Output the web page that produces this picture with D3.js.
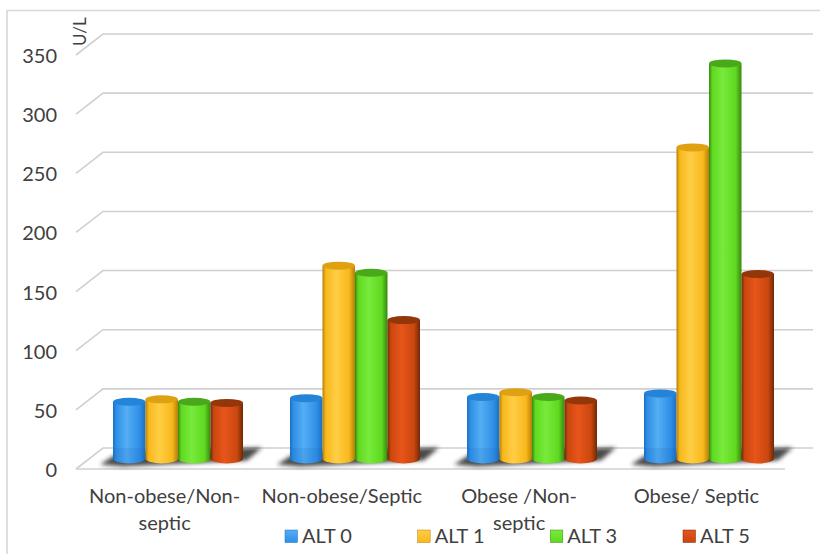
<!DOCTYPE html>
<html>
<head>
<meta charset="utf-8">
<script src="https://cdn.jsdelivr.net/npm/d3@7/dist/d3.min.js"></script>
<style>
  html, body { margin: 0; padding: 0; background: #fff; }
  svg { display: block; }
  text { font-family: Lato, "Open Sans", sans-serif; fill: #404040; }
</style>
</head>
<body>
<div id="chart"></div>
<script>
const categories = ["Non-obese/Non-septic", "Non-obese/Septic", "Obese /Non-septic", "Obese/ Septic"];
const categoryLines = [["Non-obese/Non-", "septic"], ["Non-obese/Septic"], ["Obese /Non-", "septic"], ["Obese/ Septic"]];
const seriesNames = ["ALT 0", "ALT 1", "ALT 3", "ALT 5"];
const alt0 = [48, 51, 52, 55];
const alt1 = [50, 163, 56, 263];
const alt3 = [48, 157, 52, 334];
const alt5 = [47, 117, 49, 156];
const seriesValues = [alt0, alt1, alt3, alt5];
const yTicks = [0, 50, 100, 150, 200, 250, 300, 350];
const seriesColors = [
  { edge: "#1c6fbf", mid: "#55aef5", base: "#2f8fe6", top: "#2384d8" },
  { edge: "#b57f08", mid: "#ffce45", base: "#f8b81c", top: "#dfa112" },
  { edge: "#37870f", mid: "#78ea3c", base: "#5fd91f", top: "#4aa91a" },
  { edge: "#6e2a05", mid: "#e8551a", base: "#c9470f", top: "#93360a" }
];

const width = 820, height = 554;
const depthX = 27, depthY = 21;      // offset from front floor edge to back wall
const floorInset = 10.5;             // bars stand this far behind the front edge

const svg = d3.select("#chart").append("svg").attr("width", width).attr("height", height);
const defs = svg.append("defs");

const y = d3.scaleLinear().domain([0, 350]).range([469, 55]);
const xFront = d3.scaleBand().domain(categories).range([76, 785]);
const xGroup = d3.scaleBand().domain(categories).range([90, 798]);
const xBar = d3.scaleBand().domain(d3.range(4)).range([23, 153]);

// Horizontal shading gives each column its cylindrical look
seriesColors.forEach((c, i) => {
  const g = defs.append("linearGradient").attr("id", "cyl" + i);
  [[0, c.edge], [0.1, c.base], [0.42, c.mid], [0.82, c.base], [1, c.edge]].forEach(([o, col]) =>
    g.append("stop").attr("offset", o).attr("stop-color", col));
  const s = defs.append("linearGradient").attr("id", "swatch" + i).attr("x1", 0).attr("x2", 0).attr("y1", 0).attr("y2", 1);
  [[0, c.mid], [1, c.base]].forEach(([o, col]) =>
    s.append("stop").attr("offset", o).attr("stop-color", col));
});
defs.append("filter").attr("id", "soft").attr("x", "-20%").attr("y", "-100%").attr("width", "140%").attr("height", "300%")
  .append("feGaussianBlur").attr("stdDeviation", 2.2);

// Chart frame: top and left edges only
svg.append("path")
  .attr("d", `M7,554V10.5H820`)
  .attr("fill", "none").attr("stroke", "#d8d8d8").attr("stroke-width", 1.6);

// Gridlines wrap from the side wall on to the back wall
const gridColor = "#d0d0d0";
svg.append("g").selectAll("path").data(yTicks).join("path")
  .attr("d", d => `M${76},${y(d)}L${76 + depthX},${y(d) - depthY}L${813},${y(d) - depthY}`)
  .attr("fill", "none").attr("stroke", gridColor).attr("stroke-width", 1.6);
svg.append("line")
  .attr("x1", 76).attr("x2", 785).attr("y1", y(0)).attr("y2", y(0))
  .attr("stroke", gridColor).attr("stroke-width", 1.6);

// Soft shadow each group casts on the floor
svg.append("g").selectAll("path").data(categories).join("path")
  .attr("d", c => {
    const x0 = xGroup(c) + xBar(0), x1 = xGroup(c) + xBar(3) + xBar.bandwidth();
    const yb = y(0) - floorInset;
    return `M${x0 - 13},${yb + 6}L${x0 + 6},${yb - 6}L${x1 + 19},${yb - 11}L${x1 + 4},${yb + 2}L${x0 + 10},${yb + 8}Z`;
  })
  .attr("fill", "#2b2b2b").attr("opacity", 0.85).attr("filter", "url(#soft)");

// Columns
const rx = xBar.bandwidth() / 2;
const ryTop = 4, ryBase = 5;
const groups = svg.append("g").selectAll("g").data(categories).join("g")
  .attr("transform", c => `translate(${xGroup(c)},0)`);
seriesValues.forEach((vals, s) => {
  const cols = groups.append("g").datum((c, i) => ({ v: vals[i], s }));
  cols.append("path")
    .attr("d", d => {
      const xl = xBar(d.s), xr = xl + xBar.bandwidth();
      const yb = y(0) - floorInset, yt = y(d.v) - floorInset;
      return `M${xl},${yt}L${xl},${yb}A${rx},${ryBase} 0 0 0 ${xr},${yb}L${xr},${yt}Z`;
    })
    .attr("fill", `url(#cyl${s})`);
  cols.append("ellipse")
    .attr("cx", d => xBar(d.s) + rx)
    .attr("cy", d => y(d.v) - floorInset)
    .attr("rx", rx).attr("ry", ryTop)
    .attr("fill", seriesColors[s].top);
  // The first series picks up a faint tint where it passes in front of the floor
  if (s === 0) {
    cols.append("path")
      .attr("d", d => {
        const xl = xBar(d.s), xr = xl + xBar.bandwidth();
        const yb = y(0) - floorInset;
        return `M${xl},${y(0) - depthY}L${xl},${yb}A${rx},${ryBase} 0 0 0 ${xr},${yb}L${xr},${y(0) - depthY}Z`;
      })
      .attr("fill", "#0f5fb0").attr("opacity", 0.13);
  }
});

// Value axis
svg.append("g").selectAll("text").data(yTicks).join("text")
  .attr("x", 57).attr("y", d => y(d) + 8)
  .attr("text-anchor", "end").attr("font-size", 20).text(d => d);
svg.append("text")
  .attr("transform", "translate(86,46) rotate(-90)")
  .attr("font-size", 17).text("U/L");

// Category labels
svg.append("g").selectAll("text").data(categories).join("text")
  .attr("text-anchor", "middle").attr("font-size", 20)
  .each(function (c, i) {
    d3.select(this).selectAll("tspan").data(categoryLines[i]).join("tspan")
      .attr("x", xFront(c) + xFront.bandwidth() / 2)
      .attr("y", (d, k) => 503 + k * 27)
      .text(d => d);
  });

// Legend
const legendX = d3.scalePoint().domain(seriesNames).range([285, 683]);
const legend = svg.append("g").selectAll("g").data(seriesNames).join("g")
  .attr("transform", d => `translate(${legendX(d)},530)`);
legend.append("rect").attr("width", 12.5).attr("height", 12.5)
  .attr("fill", (d, i) => `url(#swatch${i})`)
  .attr("stroke", (d, i) => seriesColors[i].edge).attr("stroke-width", 0.5);
legend.append("text").attr("x", 17).attr("y", 13).attr("font-size", 20).text(d => d);
</script>
</body>
</html>
